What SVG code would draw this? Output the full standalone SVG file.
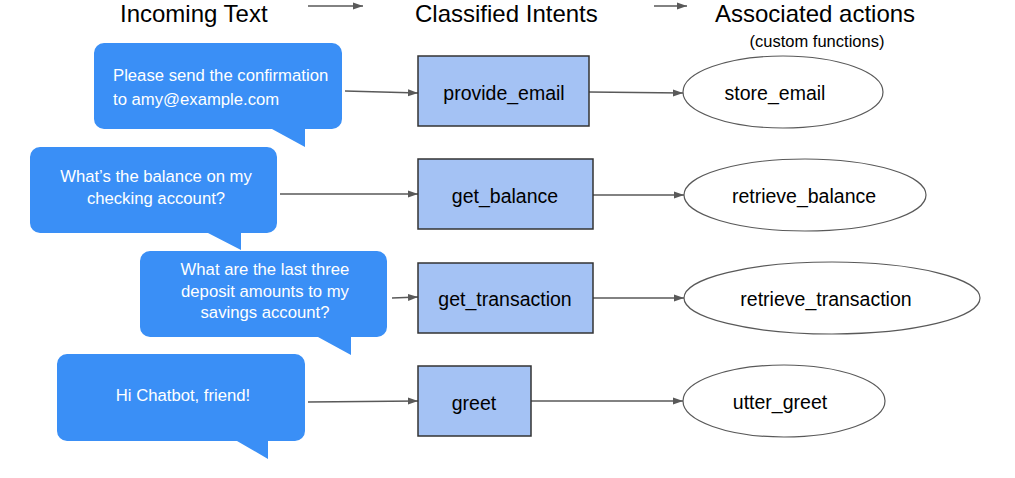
<svg xmlns="http://www.w3.org/2000/svg" width="1015" height="478" viewBox="0 0 1015 478">
<style>
.title{font-family:"Liberation Sans",Arial,sans-serif;font-size:24px;fill:#000}
.sub{font-family:"Liberation Sans",Arial,sans-serif;font-size:16.5px;fill:#000}
.bubble{fill:#3a8ff6}
.btxt{font-family:"Liberation Sans",Arial,sans-serif;font-size:16.7px;fill:#fff}
.intent{fill:#a4c2f4;stroke:#333;stroke-width:1.5}
.act{fill:#fff;stroke:#595959;stroke-width:1.2}
.lbl{font-family:"Liberation Sans",Arial,sans-serif;font-size:19.5px;fill:#000;text-anchor:middle}
.conn{stroke:#595959;stroke-width:1.3;fill:none;marker-end:url(#ah)}
</style>
<defs>
<marker id="ah" markerUnits="userSpaceOnUse" markerWidth="11" markerHeight="8" refX="10" refY="4" orient="auto">
<path d="M0,0.5 L10,4 L0,7.5 Z" fill="#595959"/>
</marker>
</defs>
<rect width="1015" height="478" fill="#fff"/>
<g id="headers">
<text class="title" x="120" y="22">Incoming Text</text>
<text class="title" x="415" y="22">Classified Intents</text>
<text class="title" x="715" y="22">Associated actions</text>
<text class="sub" x="817" y="47" text-anchor="middle">(custom functions)</text>
</g>
<g id="connectors">
<line class="conn" x1="308" y1="6" x2="363" y2="6"/>
<line class="conn" x1="654" y1="6" x2="687" y2="6"/>
<line class="conn" x1="345" y1="91" x2="418" y2="93"/>
<line class="conn" x1="589" y1="92" x2="683" y2="93"/>
<line class="conn" x1="280" y1="194" x2="418" y2="194"/>
<line class="conn" x1="593" y1="195" x2="684" y2="195"/>
<line class="conn" x1="392" y1="298" x2="418" y2="297"/>
<line class="conn" x1="593" y1="298" x2="684" y2="298"/>
<line class="conn" x1="308" y1="402" x2="418" y2="401"/>
<line class="conn" x1="531" y1="401" x2="683" y2="401"/>
</g>
<g id="msg1">
<path class="bubble" d="M104,43 H332 A10,10 0 0 1 342,53 V119 A10,10 0 0 1 332,129 H305 V147 L272,129 H104 A10,10 0 0 1 94,119 V53 A10,10 0 0 1 104,43 Z"/>
<text class="btxt" x="113" y="81">Please send the confirmation</text>
<text class="btxt" x="113" y="105">to amy@example.com</text>
</g>
<g id="msg2">
<path class="bubble" d="M40,147 H267 A10,10 0 0 1 277,157 V223 A10,10 0 0 1 267,233 H241 V250 L208,233 H40 A10,10 0 0 1 30,223 V157 A10,10 0 0 1 40,147 Z"/>
<text class="btxt" x="156" y="182" text-anchor="middle">What’s the balance on my</text>
<text class="btxt" x="156" y="204" text-anchor="middle">checking account?</text>
</g>
<g id="msg3">
<path class="bubble" d="M150,251 H377 A10,10 0 0 1 387,261 V327 A10,10 0 0 1 377,337 H351 V355 L318,337 H150 A10,10 0 0 1 140,327 V261 A10,10 0 0 1 150,251 Z"/>
<text class="btxt" x="265" y="275" text-anchor="middle">What are the last three</text>
<text class="btxt" x="265" y="297" text-anchor="middle">deposit amounts to my</text>
<text class="btxt" x="265" y="318" text-anchor="middle">savings account?</text>
</g>
<g id="msg4">
<path class="bubble" d="M67,354 H295 A10,10 0 0 1 305,364 V431 A10,10 0 0 1 295,441 H268 V459 L237,441 H67 A10,10 0 0 1 57,431 V364 A10,10 0 0 1 67,354 Z"/>
<text class="btxt" x="183" y="401" text-anchor="middle">Hi Chatbot, friend!</text>
</g>
<g id="provide_email">
<rect class="intent" x="418" y="56" width="171" height="70"/>
<text class="lbl" x="504" y="100">provide_email</text>
</g>
<g id="get_balance">
<rect class="intent" x="418" y="159" width="175" height="70"/>
<text class="lbl" x="505" y="203">get_balance</text>
</g>
<g id="get_transaction">
<rect class="intent" x="418" y="263" width="175" height="70"/>
<text class="lbl" x="505" y="306">get_transaction</text>
</g>
<g id="greet">
<rect class="intent" x="418" y="366" width="113" height="70"/>
<text class="lbl" x="474" y="410">greet</text>
</g>
<g id="store_email">
<ellipse class="act" cx="783" cy="92" rx="100" ry="36"/>
<text class="lbl" x="775" y="100">store_email</text>
</g>
<g id="retrieve_balance">
<ellipse class="act" cx="805" cy="195" rx="121" ry="36"/>
<text class="lbl" x="804" y="203">retrieve_balance</text>
</g>
<g id="retrieve_transaction">
<ellipse class="act" cx="832" cy="298" rx="148" ry="36"/>
<text class="lbl" x="826" y="306">retrieve_transaction</text>
</g>
<g id="utter_greet">
<ellipse class="act" cx="784" cy="401" rx="101" ry="36"/>
<text class="lbl" x="780" y="409">utter_greet</text>
</g>
</svg>
